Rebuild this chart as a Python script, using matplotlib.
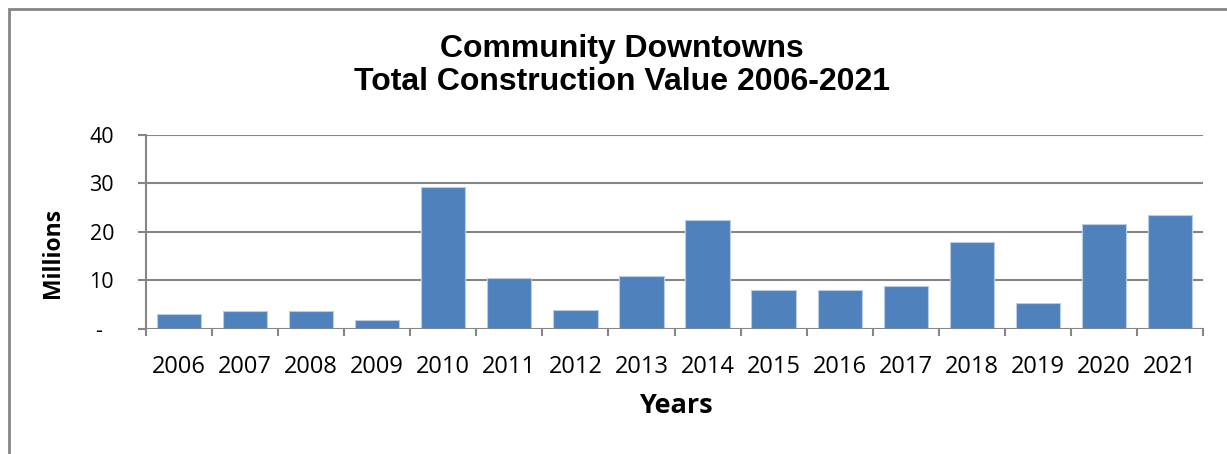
import matplotlib
matplotlib.use("Agg")
import matplotlib.pyplot as plt
from matplotlib.patches import Rectangle

years = ["2006", "2007", "2008", "2009", "2010", "2011", "2012", "2013",
         "2014", "2015", "2016", "2017", "2018", "2019", "2020", "2021"]
values = [3.1, 3.65, 3.65, 1.7, 29.3, 10.4, 3.8, 10.9,
          22.5, 8.0, 7.9, 8.9, 17.8, 5.3, 21.6, 23.5]
yticks = [0, 10, 20, 30, 40]
ytick_labels = ["-  ", "10", "20", "30", "40"]

W, H = 1227, 454
fig = plt.figure(figsize=(W / 100, H / 100), dpi=100)
fig.patch.set_facecolor("white")

# outer chart border (partially cropped)
fig.patches.append(Rectangle((8.5 / W, -0.1), 1.2, 1 - 8.5 / H + 0.1,
                             transform=fig.transFigure, fill=False,
                             edgecolor="#868686", linewidth=2.0, zorder=0))

ax = fig.add_axes([146 / W, 1 - 328.7 / H, (1203 - 146) / W, (328.7 - 134.7) / H])
x = list(range(len(years)))
ax.bar(x, values, width=0.67, color="#4F81BD", edgecolor="#B9CDE5",
       linewidth=0.8, zorder=3)
ax.set_xlim(-0.5, len(years) - 0.5)
ax.set_ylim(0, 40)

ax.set_yticks(yticks)
ax.set_yticklabels(ytick_labels, fontfamily="Open Sans", fontsize=15.5)
ax.set_xticks(x)
ax.set_xticklabels(years, fontfamily="Open Sans", fontsize=17)
ax.tick_params(axis="x", length=0, pad=19)
ax.tick_params(axis="y", length=6, color="#868686", width=1.5, pad=17)

# category boundary ticks
for b in range(len(years) + 1):
    ax.plot([b - 0.5, b - 0.5], [0, -1.3], color="#868686", lw=1.5,
            clip_on=False, zorder=4)

ax.grid(axis="y", color="#868686", linewidth=1.5, zorder=0)
for s in ["top", "right", "bottom"]:
    ax.spines[s].set_visible(False)
ax.spines["left"].set_color("#868686")
ax.spines["left"].set_linewidth(1.5)
ax.axhline(0, color="#868686", linewidth=1.8, zorder=4)

fig.text(53 / W, 1 - 253 / H, "Millions", rotation=90, ha="center", va="center",
         fontfamily="Open Sans", fontweight="bold", fontsize=16.5)
fig.text(676 / W, 1 - 406 / H, "Years", ha="center", va="center",
         fontfamily="Open Sans", fontweight="bold", fontsize=19.5)

fig.text(622 / W, 1 - 65.5 / H, "Community Downtowns\nTotal Construction Value 2006-2021",
         ha="center", va="center", fontfamily="Liberation Sans",
         fontweight="bold", fontsize=23, linespacing=1.15)

fig.savefig("out.png", dpi=100, facecolor="white")
